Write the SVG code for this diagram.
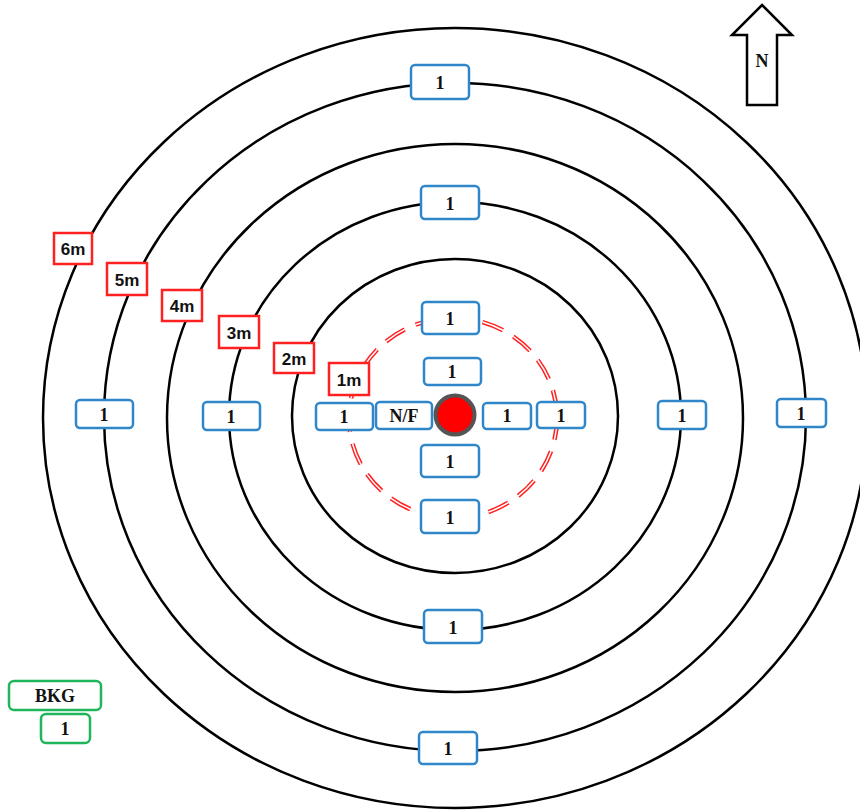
<svg xmlns="http://www.w3.org/2000/svg" width="860" height="810" viewBox="0 0 860 810">
<style>
.ring{fill:none;stroke:#000;stroke-width:2.5}
.bb{fill:#fff;stroke:#2f86c9;stroke-width:2.5}
.gb{fill:#fff;stroke:#1fb55a;stroke-width:2.5}
.rb{fill:#fff;stroke:#ff2020;stroke-width:2.5}
.t{font-family:"Liberation Serif","Times New Roman",serif;font-weight:bold;font-size:18px;fill:#111;text-anchor:middle;dominant-baseline:central}
.s{font-family:"Liberation Sans",Arial,sans-serif;font-weight:bold;font-size:17px;fill:#111;text-anchor:middle;dominant-baseline:central}
</style>
<rect width="860" height="810" fill="#fff"/>
<g id="rings">
<ellipse class="ring" cx="455" cy="418" rx="412" ry="390"/>
<ellipse class="ring" cx="455" cy="417" rx="351" ry="334"/>
<ellipse class="ring" cx="455" cy="418" rx="288" ry="274"/>
<ellipse class="ring" cx="455" cy="416" rx="226" ry="214"/>
<ellipse class="ring" cx="455" cy="416" rx="163" ry="157"/>
</g>
<g id="ring-1m">
<ellipse cx="453" cy="418" rx="104" ry="100" fill="none" stroke="#ff2020" stroke-width="4.5" stroke-dasharray="22 12"/>
<ellipse cx="453" cy="418" rx="104" ry="100" fill="none" stroke="#fff" stroke-width="1.5" stroke-dasharray="22 12"/>
</g>
<g id="source"><circle cx="455" cy="415" r="19.5" fill="#ff0000" stroke="#555" stroke-width="4"/></g>
<g id="north">
<polygon points="762,5 792,35 777,35 777,105 747,105 747,35 732,35" fill="#fff" stroke="#000" stroke-width="2.5" stroke-linejoin="miter"/>
<text class="t" x="762" y="61" font-size="19">N</text>
</g>
<g id="labels">
<g id="l6"><rect class="rb" x="54" y="233" width="38" height="31"/><text class="s" x="73" y="249">6m</text></g>
<g id="l5"><rect class="rb" x="107" y="263" width="40" height="32"/><text class="s" x="127" y="280">5m</text></g>
<g id="l4"><rect class="rb" x="162" y="290" width="40" height="31"/><text class="s" x="182" y="306">4m</text></g>
<g id="l3"><rect class="rb" x="219" y="316" width="40" height="32"/><text class="s" x="239" y="333">3m</text></g>
<g id="l2"><rect class="rb" x="274" y="343" width="40" height="30"/><text class="s" x="294" y="359">2m</text></g>
<g id="l1"><rect class="rb" x="329" y="363" width="40" height="32"/><text class="s" x="349" y="380">1m</text></g>
</g>
<g id="samples">
<g id="b1"><rect class="bb" x="411" y="65" width="58" height="34" rx="4"/><text class="t" x="440" y="83">1</text></g>
<g id="b2"><rect class="bb" x="421" y="186" width="58" height="33" rx="4"/><text class="t" x="450" y="204">1</text></g>
<g id="b3"><rect class="bb" x="422" y="302" width="57" height="32" rx="4"/><text class="t" x="450" y="319">1</text></g>
<g id="b4"><rect class="bb" x="424" y="358" width="57" height="27" rx="4"/><text class="t" x="452" y="372">1</text></g>
<g id="b5"><rect class="bb" x="421" y="445" width="58" height="32" rx="4"/><text class="t" x="450" y="462">1</text></g>
<g id="b6"><rect class="bb" x="421" y="500" width="58" height="33" rx="4"/><text class="t" x="450" y="518">1</text></g>
<g id="b7"><rect class="bb" x="424" y="610" width="58" height="33" rx="4"/><text class="t" x="453" y="628">1</text></g>
<g id="b8"><rect class="bb" x="419" y="732" width="58" height="32" rx="4"/><text class="t" x="448" y="749">1</text></g>
<g id="b9"><rect class="bb" x="76" y="400" width="57" height="28" rx="4"/><text class="t" x="104" y="415">1</text></g>
<g id="b10"><rect class="bb" x="203" y="402" width="57" height="28" rx="4"/><text class="t" x="231" y="417">1</text></g>
<g id="b11"><rect class="bb" x="316" y="403" width="57" height="27" rx="4"/><text class="t" x="344" y="417">1</text></g>
<g id="nf"><rect class="bb" x="376" y="402" width="56" height="27" rx="4"/><text class="t" x="404" y="416">N/F</text></g>
<g id="b12"><rect class="bb" x="483" y="403" width="48" height="26" rx="4"/><text class="t" x="507" y="416">1</text></g>
<g id="b13"><rect class="bb" x="537" y="402" width="48" height="26" rx="4"/><text class="t" x="561" y="416">1</text></g>
<g id="b14"><rect class="bb" x="658" y="401" width="48" height="28" rx="4"/><text class="t" x="682" y="416">1</text></g>
<g id="b15"><rect class="bb" x="777" y="399" width="49" height="28" rx="4"/><text class="t" x="801" y="414">1</text></g>
</g>
<g id="bkg">
<rect class="gb" x="9" y="681" width="92" height="29" rx="5"/><text class="t" x="55" y="696">BKG</text>
</g>
<g id="bkg1">
<rect class="gb" x="41" y="714" width="49" height="29" rx="5"/><text class="t" x="65" y="729">1</text>
</g>
</svg>
